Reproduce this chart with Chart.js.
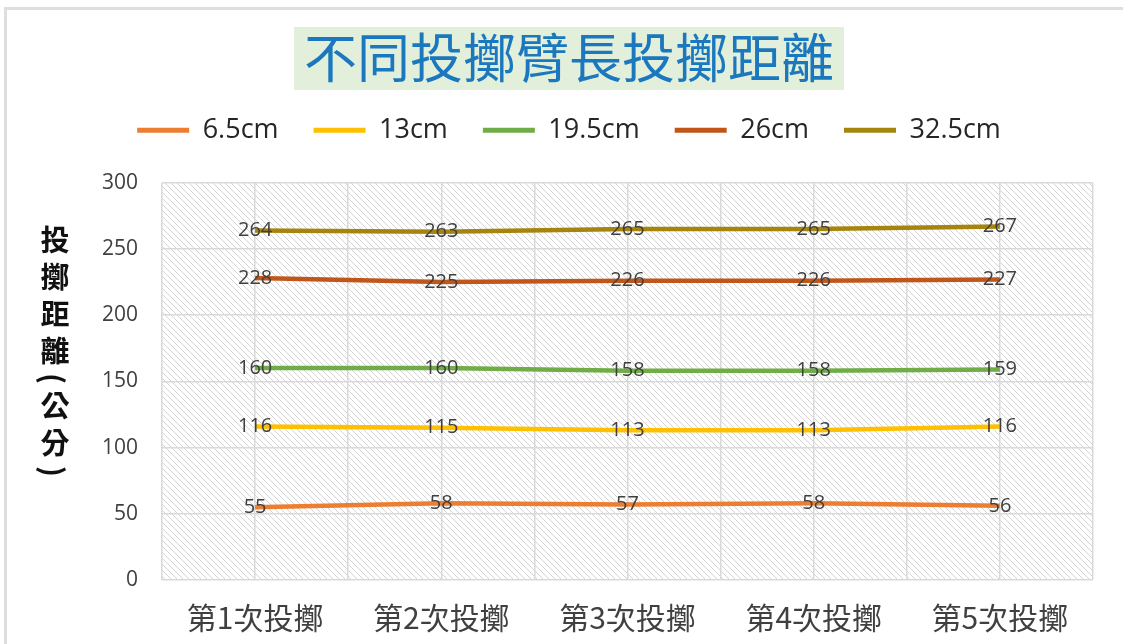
<!DOCTYPE html>
<html>
<head>
<meta charset="utf-8">
<script src="https://cdn.jsdelivr.net/npm/chart.js@4/dist/chart.umd.min.js"></script>
<style>
  html, body { margin: 0; padding: 0; background: #fff; }
  #wrap { position: relative; width: 1123px; height: 644px; overflow: hidden; }
  #frame { position: absolute; left: 4px; top: 7px; width: 1200px; height: 700px;
           border-top: 3px solid #dedede; border-left: 3px solid #dedede; }
  #ytitle { position: absolute; left: 34px; top: 225px; writing-mode: vertical-rl;
            font: bold 29px "Noto Sans CJK TC", sans-serif; letter-spacing: 8px; color: #111; }
  canvas { position: absolute; left: 0; top: 0; }
</style>
</head>
<body>
<div id="wrap">
  <div id="frame"></div>
  <canvas id="chart" width="1123" height="644"></canvas>
  <div id="ytitle">投擲距離(公分)</div>
</div>
<script>
// 資料
const categories = ['第1次投擲', '第2次投擲', '第3次投擲', '第4次投擲', '第5次投擲'];
const seriesNames = ['6.5cm', '13cm', '19.5cm', '26cm', '32.5cm'];
const arm65 = [55, 58, 57, 58, 56];
const arm13 = [116, 115, 113, 113, 116];
const arm195 = [160, 160, 158, 158, 159];
const arm26 = [228, 225, 226, 226, 227];
const arm325 = [264, 263, 265, 265, 267];
const yTicks = [0, 50, 100, 150, 200, 250, 300];
const colors = ['#ED7D31', '#FFC000', '#70AD47', '#C0561A', '#A5850E'];

const seriesValues = [arm65, arm13, arm195, arm26, arm325];

// 斜線底紋
function makeHatch() {
  const c = document.createElement('canvas');
  c.width = 6; c.height = 6;
  const g = c.getContext('2d');
  g.strokeStyle = '#d4d4d4';
  g.lineWidth = 1;
  g.beginPath();
  g.moveTo(-1, -1); g.lineTo(7, 7);
  g.moveTo(-1, 5); g.lineTo(1, 7);
  g.moveTo(5, -1); g.lineTo(7, 1);
  g.stroke();
  return c;
}

const hatchPlugin = {
  id: 'hatch',
  beforeDraw(chart) {
    const { ctx, chartArea: a } = chart;
    ctx.save();
    ctx.fillStyle = ctx.createPattern(makeHatch(), 'repeat');
    ctx.fillRect(a.left, a.top, a.right - a.left, a.bottom - a.top);
    ctx.restore();
  }
};

// 標題背景框
const titleBoxPlugin = {
  id: 'titleBox',
  beforeDraw(chart) {
    const ctx = chart.ctx;
    const t = chart.titleBlock;
    ctx.save();
    ctx.font = '53px "Noto Sans CJK TC"';
    const w = ctx.measureText(t.options.text).width;
    const cx = (t.left + t.right) / 2;
    ctx.fillStyle = '#E2EFDA';
    ctx.fillRect(cx - w / 2 - 10, 27, w + 20, 63);
    ctx.restore();
  }
};

// 數值標籤
const valueLabels = {
  id: 'valueLabels',
  afterDatasetsDraw(chart) {
    const ctx = chart.ctx;
    ctx.save();
    ctx.font = '20px "Open Sans"';
    ctx.fillStyle = '#404040';
    ctx.textAlign = 'center';
    ctx.textBaseline = 'middle';
    chart.data.datasets.forEach((ds, i) => {
      chart.getDatasetMeta(i).data.forEach((pt, j) => {
        ctx.fillText(ds.data[j], pt.x, pt.y);
      });
    });
    ctx.restore();
  }
};

new Chart(document.getElementById('chart'), {
  type: 'line',
  data: {
    labels: categories,
    datasets: seriesNames.map((name, i) => ({
      label: name,
      data: seriesValues[i],
      borderColor: colors[i],
      backgroundColor: colors[i],
      borderWidth: 4.5,
      pointRadius: 0,
      tension: 0
    }))
  },
  options: {
    responsive: false,
    animation: false,
    layout: { padding: { left: 45, right: 30, top: 0, bottom: 0 } },
    plugins: {
      title: {
        display: true,
        text: '不同投擲臂長投擲距離',
        color: '#1B78BE',
        font: { family: '"Noto Sans CJK TC"', size: 53, weight: 'normal', lineHeight: 0.9 },
        padding: { top: 34, bottom: 0 }
      },
      legend: {
        display: true,
        position: 'top',
        labels: {
          color: '#262626',
          font: { family: '"Open Sans"', size: 27 },
          boxWidth: 52,
          boxHeight: 5,
          padding: 35,
          generateLabels(chart) {
            return Chart.defaults.plugins.legend.labels.generateLabels(chart)
              .map(l => Object.assign(l, { lineWidth: 0 }));
          }
        }
      },
      tooltip: { enabled: false }
    },
    scales: {
      x: {
        type: 'category',
        offset: true,
        grid: { display: false, drawTicks: false },
        border: { display: false },
        ticks: { color: '#404040', padding: 20, font: { family: '"Noto Sans CJK TC"', size: 30 } },
        afterFit(s) { s.height = 64; }
      },
      x2: {
        type: 'linear',
        position: 'top',
        min: -0.5,
        max: 4.5,
        grid: { color: '#d9d9d9', lineWidth: 1.5, drawTicks: false },
        border: { display: false },
        ticks: { display: false, stepSize: 0.5 },
        afterFit(s) { s.height = 29; }
      },
      y: {
        min: yTicks[0],
        max: yTicks[yTicks.length - 1],
        afterBuildTicks(s) { s.ticks = yTicks.map(v => ({ value: v })); },
        grid: { color: '#d9d9d9', lineWidth: 1.5, drawTicks: false },
        border: { display: false },
        ticks: { color: '#404040', padding: 24, font: { family: '"Open Sans"', size: 21 } },
        afterFit(s) { s.width = 117; }
      }
    }
  },
  plugins: [hatchPlugin, titleBoxPlugin, valueLabels]
});
</script>
</body>
</html>
